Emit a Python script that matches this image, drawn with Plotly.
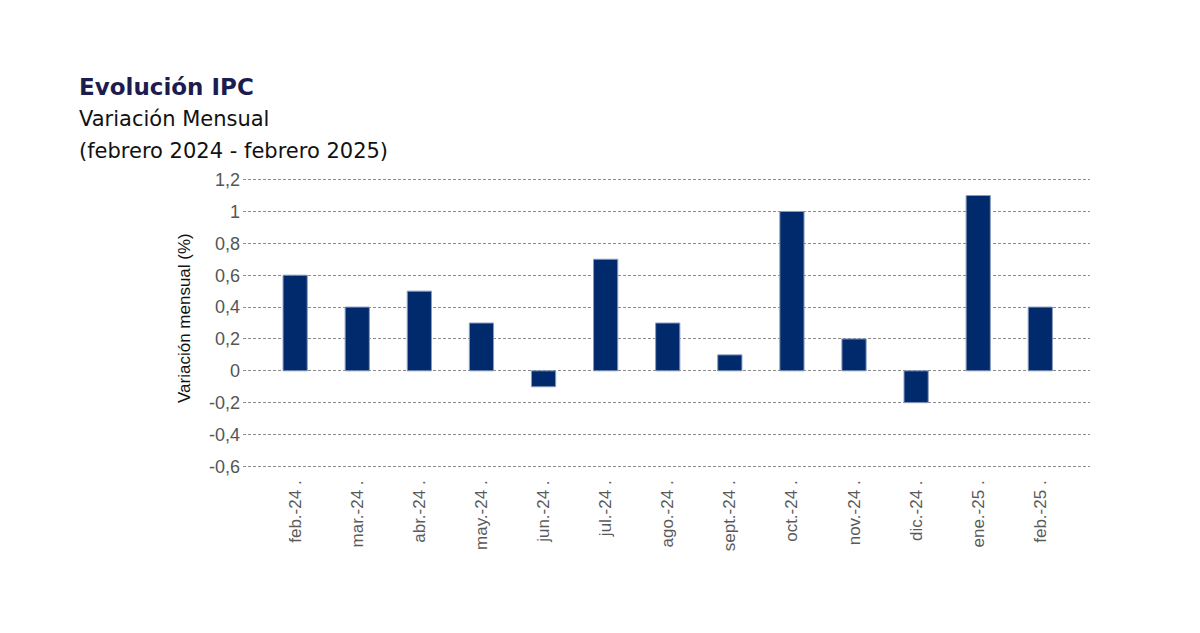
import plotly.graph_objects as go

categories = ["feb.-24", "mar.-24", "abr.-24", "may.-24", "jun.-24", "jul.-24", "ago.-24",
              "sept.-24", "oct.-24", "nov.-24", "dic.-24", "ene.-25", "feb.-25"]
x_tick_labels = [c + " ." for c in categories]
values = [0.6, 0.4, 0.5, 0.3, -0.1, 0.7, 0.3, 0.1, 1.0, 0.2, -0.2, 1.1, 0.4]
y_ticks = [-0.6, -0.4, -0.2, 0, 0.2, 0.4, 0.6, 0.8, 1.0, 1.2]
y_tick_labels = ["-0,6", "-0,4", "-0,2", "0", "0,2", "0,4", "0,6", "0,8", "1", "1,2"]

W, H = 1200, 633
OFF = 8  # page body margin
L, R, T, B = 235, 118, 170, 173
pw = W - L - R
ph = H - T - B


def px(X):
    return (X - OFF - L) / pw


def py(Y):
    return (H - B - (Y - OFF)) / ph


fig = go.Figure(go.Bar(
    x=categories, y=values,
    marker=dict(color="#002A6C", line=dict(color="#8a9bbd", width=1)),
    width=0.39,
))

fig.update_layout(
    width=W, height=H,
    paper_bgcolor="white", plot_bgcolor="white",
    margin=dict(l=L, r=R, t=T, b=B),
    showlegend=False,
    font=dict(family="Liberation Sans, Arial", color="#555555"),
)
fig.update_xaxes(
    range=[-0.84, 12.8], tickangle=-90,
    tickvals=categories, ticktext=x_tick_labels,
    tickfont=dict(size=17, color="#5a5a5a"),
    ticklabelstandoff=8,
    showgrid=False, zeroline=False, showline=False, ticks="",
)
fig.update_yaxes(
    range=[-0.61, 1.21], tickvals=y_ticks, ticktext=y_tick_labels,
    tickfont=dict(size=18, color="#555555"),
    showgrid=True, gridcolor="#8c8c8c", griddash="3px,2px", gridwidth=1,
    zeroline=False, showline=False, ticks="", ticklabelstandoff=2,
)

fig.add_annotation(x=px(184), y=py(318), text="Variación mensual (%)", textangle=-90,
                   showarrow=False, xanchor="center", yanchor="middle",
                   font=dict(size=17, color="#111111"))

fig.add_annotation(x=px(77), y=py(87), text="<b>Evolución IPC</b>",
                   showarrow=False, xanchor="left", yanchor="middle",
                   font=dict(size=23, color="#1c1c50", family="DejaVu Sans"))
for t, yy in [("Variación Mensual", 119), ("(febrero 2024 - febrero 2025)", 151)]:
    fig.add_annotation(x=px(77), y=py(yy), text=t, showarrow=False, xanchor="left", yanchor="middle",
                       font=dict(size=21, color="#111111", family="DejaVu Sans"))

for a in fig.layout.annotations:
    a.xref = "paper"
    a.yref = "paper"

fig.write_html("out.html")
